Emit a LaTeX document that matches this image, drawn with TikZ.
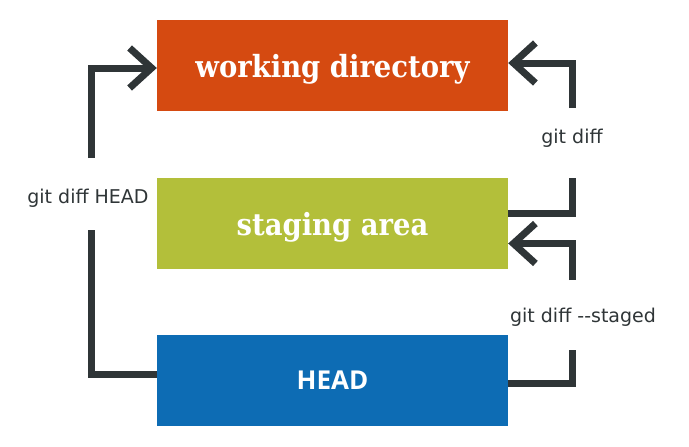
\documentclass[tikz,border=0pt]{standalone}
\usepackage{fontspec}
\setmainfont{DejaVu Sans}
\newfontfamily\slabfont{DejaVu Serif Condensed}
\newfontfamily\headfont{Open Sans}
\usetikzlibrary{arrows.meta, calc}
\definecolor{wdorange}{HTML}{D54A11}
\definecolor{sagreen}{HTML}{B3BF3A}
\definecolor{hdblue}{HTML}{0D6CB4}
\definecolor{linegray}{HTML}{2F3537}

\begin{document}
\begin{tikzpicture}[x=1pt, y=-1pt,
        area/.style={minimum width=351pt, minimum height=91pt, inner sep=0pt, text=white},
        slab/.style={text depth=0pt, font=\slabfont\bfseries\fontsize{30.5}{32}\selectfont},
        bracket/.style={draw=linegray, line width=7pt, line join=miter},
        conn/.style={bracket, -{Straight Barb[length=22pt, width=40pt]}},
        cmd/.style={text=linegray, font=\fontsize{19}{21}\selectfont}
    ]
        \useasboundingbox (0,0) rectangle (689,447);

        % The three areas
        \node[area, slab, fill=wdorange] (wd) at (332.5, 65.5) {working directory};
        \node[area, slab, fill=sagreen] (sa) at (332.5, 223.5) {staging area};
        \node[area, fill=hdblue, font=\headfont\bfseries\fontsize{26}{28}\selectfont] (hd) at (332.5, 380.5) {HEAD};

        % Command labels
        \node[cmd] (diffhead) at (88, 198) {git diff HEAD};
        \node[cmd] (diff) at (572, 138) {git diff};
        \node[cmd] (diffstaged) at (583, 317) {git diff -{}-staged};

        % Free ends of the connectors
        \coordinate (lup) at (91, 158);
        \coordinate (ldown) at (91, 230);
        \coordinate (rtop) at (572, 108);
        \coordinate (rsa) at (572, 178);
        \coordinate (rsaup) at (572, 280);
        \coordinate (rhd) at (572, 350);

        % git diff HEAD
        \draw[conn] (lup) |- ($(wd.west)+(0,2.5)$);
        \draw[bracket] (ldown) |- ($(hd.west)+(0,-6.5)$);

        % git diff
        \draw[conn] (rtop) |- ($(wd.east)+(0,-2.5)$);
        \draw[bracket] (rsa) |- ($(sa.east)+(0,-10)$);

        % git diff --staged
        \draw[conn] (rsaup) |- ($(sa.east)+(0,20)$);
        \draw[bracket] (rhd) |- ($(hd.east)+(0,2.5)$);

    \end{tikzpicture}
\end{document}
